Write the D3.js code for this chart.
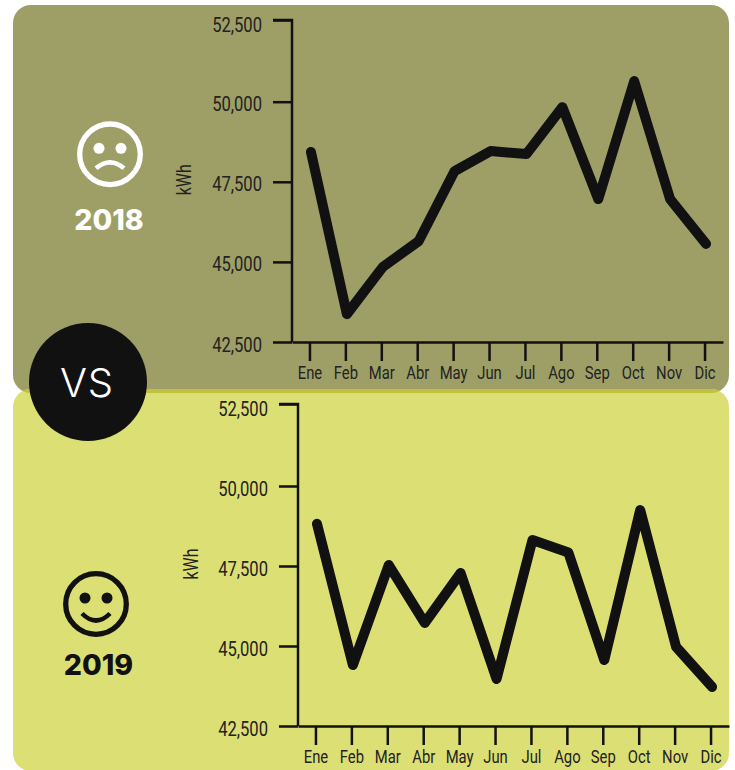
<!DOCTYPE html>
<html lang="es">
<head>
  <meta charset="UTF-8">
  <title>kWh 2018 vs 2019</title>
  <script src="https://d3js.org/d3.v7.min.js"></script>
  <style>
    html, body { margin: 0; padding: 0; background: #fff; }
    svg { display: block; }
    .axis text { font-family: "Roboto", sans-serif; fill: #222; }
    .axis line, .axis path { stroke: #111; stroke-width: 2.5px; }
    .unit { font-family: "Roboto", sans-serif; font-size: 20px; fill: #222; }
    .year { font-family: "Inter", sans-serif; font-size: 28.5px; font-weight: 800; }
    .vs { font-family: "Inter", sans-serif; font-size: 40px; font-weight: 300; fill: #fff; letter-spacing: 1px; }
  </style>
</head>
<body>
<div id="chart"></div>
<script>
  const months = ['Ene', 'Feb', 'Mar', 'Abr', 'May', 'Jun', 'Jul', 'Ago', 'Sep', 'Oct', 'Nov', 'Dic']
  const values2018 = [48430, 43370, 44840, 45650, 47835, 48460, 48365, 49830, 46960, 50630, 46960, 45560]
  const values2019 = [48820, 44405, 47530, 45720, 47280, 43970, 48310, 47920, 44560, 49250, 44970, 43720]
  const yTicks = [42500, 45000, 47500, 50000, 52500]

  const width = 735, height = 770
  const svg = d3.select('#chart').append('svg')
    .attr('width', width)
    .attr('height', height)

  // paneles de fondo
  const defs = svg.append('defs')
  defs.append('clipPath').attr('id', 'topPanel')
    .append('rect').attr('x', 13).attr('y', 5).attr('width', 716).attr('height', 388).attr('rx', 18)

  svg.append('rect').attr('x', 13).attr('y', 5).attr('width', 716).attr('height', 388).attr('rx', 18).attr('fill', '#9d9f67')
  svg.append('rect').attr('x', 13).attr('y', 389).attr('width', 716).attr('height', 382).attr('rx', 18).attr('fill', '#dcdf73')
  svg.append('rect').attr('x', 13).attr('y', 389).attr('width', 716).attr('height', 382).attr('rx', 18)
    .attr('fill', '#bfc13f').attr('clip-path', 'url(#topPanel)')

  function lineChart (values, left, right, top, mid, bottom, labelX) {
    const x = d3.scaleBand().domain(months).range([left, right])
    // el tramo superior del eje es un poco mas largo en el original
    const y = d3.scaleLinear().domain([42500, 50000, 52500]).range([bottom, mid, top])
    const g = svg.append('g')

    g.append('g').attr('class', 'axis')
      .attr('transform', `translate(${left},0)`)
      .call(d3.axisLeft(y).tickValues(yTicks).tickFormat(d3.format(',')).tickSize(19))
      .call(a => a.select('.domain').attr('d', `M-19,${top}H0V${bottom}`))
      .call(a => a.selectAll('text')
        .attr('x', 0)
        .attr('dy', null)
        .attr('y', 0)
        .style('font-size', '20px')
        .attr('dominant-baseline', 'central')
        .attr('transform', d => `translate(-30,${d === 52500 ? 4.5 : 2}) scale(0.83,1)`))

    g.append('g').attr('class', 'axis')
      .attr('transform', `translate(0,${bottom})`)
      .call(d3.axisBottom(x).tickSize(19).tickSizeOuter(0))
      .call(a => a.selectAll('text')
        .attr('y', 0)
        .attr('dy', null)
        .style('font-size', '19px')
        .attr('dominant-baseline', 'central')
        .attr('transform', 'translate(0,30) scale(0.78,1)'))

    g.append('text').attr('class', 'unit')
      .attr('transform', `translate(${labelX},${y(47500) - 2}) rotate(-90) scale(0.8,1)`)
      .attr('text-anchor', 'middle')
      .text('kWh')

    const line = d3.line()
      .x((d, i) => x(months[i]) + x.bandwidth() / 2 + 1)
      .y(d => y(d))

    g.append('path')
      .datum(values)
      .attr('d', line)
      .attr('fill', 'none')
      .attr('stroke', '#111')
      .attr('stroke-width', 10)
      .attr('stroke-linecap', 'round')
      .attr('stroke-linejoin', 'round')
  }

  lineChart(values2018, 292, 723, 20, 101.7, 342, 191)
  lineChart(values2019, 298, 729, 404, 486, 726, 198)

  // caras
  function face (cx, cy, color, mouth) {
    const g = svg.append('g').attr('transform', `translate(${cx},${cy})`)
    g.append('circle').attr('r', 30.3).attr('fill', 'none').attr('stroke', color).attr('stroke-width', 5.3)
    g.append('circle').attr('cx', -11).attr('cy', -6).attr('r', 5.5).attr('fill', color)
    g.append('circle').attr('cx', 11).attr('cy', -6).attr('r', 5.5).attr('fill', color)
    g.append('path')
      .attr('d', mouth)
      .attr('fill', 'none').attr('stroke', color).attr('stroke-width', 4.5)
  }
  face(110, 154.3, '#fff', 'M-14,14Q0,2 14,14')
  face(96, 604, '#111', 'M-14,9.5Q0,23.5 14,9.5')

  svg.append('text').attr('class', 'year').attr('x', 109).attr('y', 230)
    .attr('text-anchor', 'middle').attr('fill', '#fff').text('2018')
  svg.append('text').attr('class', 'year').attr('x', 98.5).attr('y', 675)
    .attr('text-anchor', 'middle').attr('fill', '#111').text('2019')

  svg.append('circle').attr('cx', 88).attr('cy', 382).attr('r', 59).attr('fill', '#111')
  svg.append('text').attr('class', 'vs').attr('x', 87).attr('y', 397)
    .attr('text-anchor', 'middle').text('VS')
</script>
</body>
</html>
